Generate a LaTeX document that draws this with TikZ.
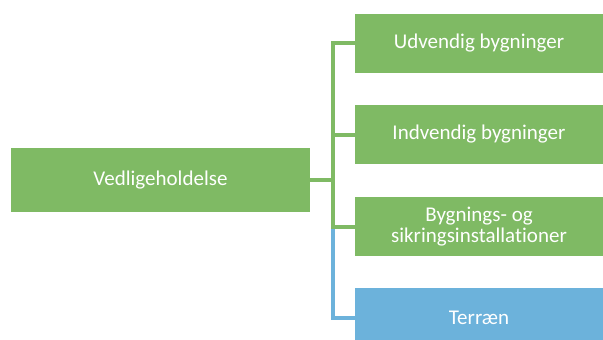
\documentclass[tikz,border=0pt]{standalone}
\usepackage{fontspec}
\setmainfont{Carlito}[Ligatures={NoCommon}]
\definecolor{leafgreen}{RGB}{127,186,100}
\definecolor{skyblue}{RGB}{108,178,219}
\begin{document}
\begin{tikzpicture}[x=1pt,y=-1pt,
  box/.style={fill=#1, draw=none, text=white, align=center, inner sep=0pt,
    font=\fontsize{21}{21.5}\selectfont},
  link/.style={draw=#1, line width=4pt}]
\useasboundingbox (0,0) rectangle (603,340);
\begin{scope}
\clip (0,0) rectangle (603,340);
% root box
\node[box=leafgreen, minimum width=299pt, minimum height=64pt] (root) at (160.5,180) {Vedligeholdelse};
% child boxes
\node[box=leafgreen, minimum width=248pt, minimum height=59pt] (c1) at (479,43) {Udvendig bygninger};
\node[box=leafgreen, minimum width=248pt, minimum height=59pt] (c2) at (479,134.5) {Indvendig bygninger};
\node[box=leafgreen, minimum width=248pt, minimum height=59pt] (c3) at (479,226.5) {Bygnings- og\\sikringsinstallationer};
\node[box=skyblue, minimum width=248pt, minimum height=59pt] (c4) at (479,317.5) {Terræn};
% bracket connectors
\coordinate (trunk) at (333,180);
\draw[link=skyblue] (c3.west -| trunk) -- (c4.west -| trunk) -- (c4.west);
\draw[link=leafgreen] (root.east) -- (trunk);
\draw[link=leafgreen] (c1.west) -- (c1.west -| trunk) -- (c3.west -| trunk) -- (c3.west);
\draw[link=leafgreen] (c2.west -| trunk) -- (c2.west);
\end{scope}
\end{tikzpicture}
\end{document}
